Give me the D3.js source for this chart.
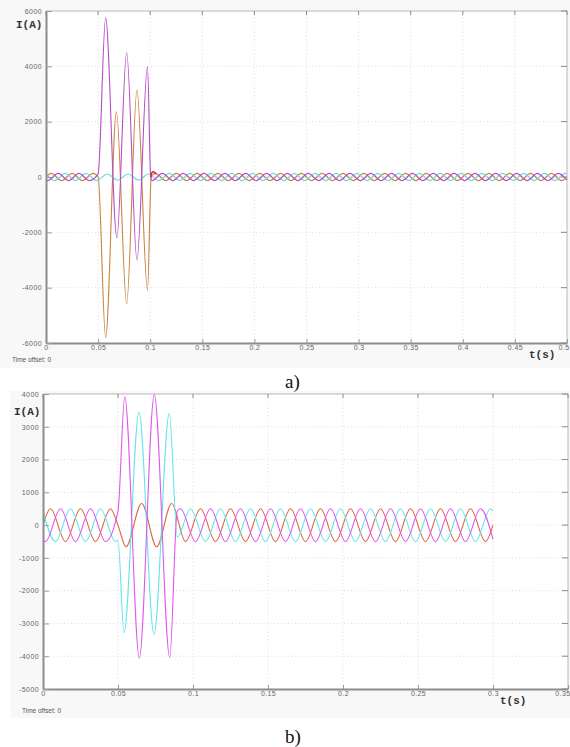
<!DOCTYPE html>
<html><head><meta charset="utf-8">
<script src="https://cdn.jsdelivr.net/npm/d3@7"></script>
<style>html,body{margin:0;padding:0;background:#fff;}svg{display:block;}</style>
</head><body>
<svg id="chart" width="570" height="747"></svg>
<script>
// ---------- DATA ----------
const halfPeriod = 0.01; // s between successive extrema in steady state (50 Hz)

// Chart a) — x ticks / y ticks
const aXTicks = [0,0.05,0.1,0.15,0.2,0.25,0.3,0.35,0.4,0.45,0.5];
const aYTicks = [-6000,-4000,-2000,0,2000,4000,6000];
// phase 1 (brown)
const aBrownPre   = [[0,0],[0.005,130],[0.015,-130],[0.025,130],[0.035,-130],[0.045,130],[0.05,0]];
const aBrownFault = [[0.0572,-5800],[0.0676,2360],[0.0774,-4590],[0.0873,3140],[0.0974,-4090],[0.101,0]];
const aBrownPostT0 = 0.105;
const aBrownPost  = [130,-130,130,-130,130,-130,130,-130,130,-130,130,-130,130,-130,130,-130,130,-130,130,-130,
                     130,-130,130,-130,130,-130,130,-130,130,-130,130,-130,130,-130,130,-130,130,-130,130,-130];
const aBrownEnd   = [[0.5,0]];
// phase 2 (purple)
const aPurplePre   = [[0,-113],[0.00167,-130],[0.01167,130],[0.02167,-130],[0.03167,130],[0.04167,-130],[0.05,113]];
const aPurpleFault = [[0.0572,5750],[0.068,-2200],[0.0774,4500],[0.0873,-3000],[0.0974,3990],[0.1005,0]];
const aPurplePostT0 = 0.10167;
const aPurplePost  = [-130,130,-130,130,-130,130,-130,130,-130,130,-130,130,-130,130,-130,130,-130,130,-130,130,
                      -130,130,-130,130,-130,130,-130,130,-130,130,-130,130,-130,130,-130,130,-130,130,-130,130];
const aPurpleEnd   = [[0.5,-113]];
// phase 3 (cyan)
const aCyanPre   = [[0,113],[0.00833,-130],[0.01833,130],[0.02833,-130],[0.03833,130],[0.04833,-130],[0.05,-113]];
const aCyanFault = [[0.0588,110],[0.0688,-110],[0.0788,110],[0.0888,-110],[0.0985,110]];
const aCyanPostT0 = 0.10833;
const aCyanPost  = [-130,130,-130,130,-130,130,-130,130,-130,130,-130,130,-130,130,-130,130,-130,130,-130,130,
                    -130,130,-130,130,-130,130,-130,130,-130,130,-130,130,-130,130,-130,130,-130,130,-130,130];
const aCyanEnd   = [[0.5,113]];
// short transient at fault clearing (red)
const aTransient = [[0.1005,0],[0.1015,150],[0.103,190],[0.1045,160],[0.106,100]];

// Chart b)
const bXTicks = [0,0.05,0.1,0.15,0.2,0.25,0.3,0.35];
const bYTicks = [-5000,-4000,-3000,-2000,-1000,0,1000,2000,3000,4000];
// phase 1 (red)
const bRedPre   = [[0,0],[0.005,500],[0.015,-500],[0.025,500],[0.035,-500],[0.045,500],[0.05,0]];
const bRedFault = [[0.0553,-660],[0.0658,660],[0.0758,-660],[0.0858,660]];
const bRedPostT0 = 0.095;
const bRedPost  = [-500,500,-500,500,-500,500,-500,500,-500,500,-500,500,-500,500,-500,500,-500,500,-500,500,-500];
const bRedEnd   = [[0.3,0]];
// phase 2 (magenta)
const bMagPre   = [[0,-433],[0.00167,-500],[0.01167,500],[0.02167,-500],[0.03167,500],[0.04167,-500],[0.05,433]];
const bMagFault = [[0.0545,3920],[0.0642,-4060],[0.0742,3980],[0.0845,-4040],[0.0895,430]];
const bMagPostT0 = 0.09167;
const bMagPost  = [500,-500,500,-500,500,-500,500,-500,500,-500,500,-500,500,-500,500,-500,500,-500,500,-500,500];
const bMagEnd   = [[0.3,-433]];
// phase 3 (cyan)
const bCyanPre   = [[0,433],[0.00833,-500],[0.01833,500],[0.02833,-500],[0.03833,500],[0.04833,-500],[0.05,-460]];
const bCyanFault = [[0.054,-3280],[0.064,3440],[0.074,-3330],[0.0842,3410],[0.0895,-370]];
const bCyanPostT0 = 0.09833;
const bCyanPost  = [500,-500,500,-500,500,-500,500,-500,500,-500,500,-500,500,-500,500,-500,500,-500,500,-500,500];
const bCyanEnd   = [[0.3,433]];

// ---------- helpers ----------
function series(pre, fault, t0, post, end){
  const steady = post.map((v,i)=>[t0 + i*halfPeriod, v]);
  return pre.concat(fault, steady, end);
}

const svg = d3.select("#chart");
const bgLayer = svg.append("g");
const fgLayer = svg.append("g");

function drawPanel(cfg){
  bgLayer.append("rect").attr("x",cfg.panel[0]).attr("y",cfg.panel[1])
    .attr("width",cfg.panel[2]).attr("height",cfg.panel[3]).attr("fill","#f8f8f8");
  const g = fgLayer.append("g");
  const x = d3.scaleLinear().domain(cfg.xDomain).range([cfg.left, cfg.right]);
  const y = d3.scaleLinear().domain(cfg.yDomain).range([cfg.bottom, cfg.top]);
  g.append("rect").attr("x",cfg.left).attr("y",cfg.top)
    .attr("width",cfg.right-cfg.left).attr("height",cfg.bottom-cfg.top).attr("fill","#ffffff");

  // grid
  const grid = g.append("g").attr("stroke","#d4d4d4").attr("stroke-width",0.8).attr("stroke-dasharray","1,2.5");
  cfg.xTicks.slice(1,-1).forEach(t=>{
    grid.append("line").attr("x1",x(t)).attr("x2",x(t)).attr("y1",cfg.top).attr("y2",cfg.bottom);
  });
  cfg.yTicks.slice(1,-1).forEach(t=>{
    grid.append("line").attr("x1",cfg.left).attr("x2",cfg.right).attr("y1",y(t)).attr("y2",y(t));
  });

  // frame top/right
  g.append("line").attr("x1",cfg.left).attr("x2",cfg.right).attr("y1",cfg.top).attr("y2",cfg.top)
    .attr("stroke","#b8b8b8").attr("stroke-width",1);
  g.append("line").attr("x1",cfg.right).attr("x2",cfg.right).attr("y1",cfg.top).attr("y2",cfg.bottom)
    .attr("stroke","#b8b8b8").attr("stroke-width",1);
  const tk = g.append("g").attr("stroke","#8a8a8a").attr("stroke-width",1);
  cfg.xTicks.forEach(t=>{
    tk.append("line").attr("x1",x(t)).attr("x2",x(t)).attr("y1",cfg.top).attr("y2",cfg.top+4);
  });
  cfg.yTicks.forEach(t=>{
    tk.append("line").attr("x1",cfg.right).attr("x2",cfg.right-6).attr("y1",y(t)).attr("y2",y(t));
  });

  // lines
  const clipId = "clip"+cfg.id;
  g.append("clipPath").attr("id",clipId).append("rect")
    .attr("x",cfg.left).attr("y",cfg.top-1).attr("width",cfg.right-cfg.left).attr("height",cfg.bottom-cfg.top+2);
  const line = d3.line().x(d=>x(d[0])).y(d=>y(d[1])).curve(d3.curveMonotoneX);
  const lg = g.append("g").attr("clip-path","url(#"+clipId+")");
  cfg.series.forEach(s=>{
    lg.append("path").datum(s.data).attr("d",line).attr("fill","none")
      .attr("stroke",s.color).attr("stroke-width",s.w||1.1).attr("stroke-linejoin","round");
  });

  // axes (left and bottom)
  const xAxis = d3.axisBottom(x).tickValues(cfg.xTicks).tickSizeInner(-4).tickSizeOuter(0).tickPadding(2)
    .tickFormat(d=>d3.format("~g")(d));
  const yAxis = d3.axisLeft(y).tickValues(cfg.yTicks).tickSizeInner(-6).tickSizeOuter(0).tickPadding(4)
    .tickFormat(d=>String(d));
  const xa = g.append("g").attr("transform",`translate(0,${cfg.bottom})`).call(xAxis);
  const ya = g.append("g").attr("transform",`translate(${cfg.left},0)`).call(yAxis);
  [xa,ya].forEach(a=>{
    a.select(".domain").attr("stroke","#8c8c8c").attr("stroke-width",2);
    a.selectAll(".tick line").attr("stroke","#9a9a9a");
    a.selectAll(".tick text").attr("font-family","Liberation Sans, Arial, sans-serif")
      .attr("font-size",7).attr("fill","#666").attr("letter-spacing","0.4px");
  });
  // keep the right-most x label inside the page
  xa.selectAll(".tick").filter((d,i,n)=>i===n.length-1).select("text")
    .attr("text-anchor","end").attr("dx","2px");

  // labels
  g.append("text").attr("x",cfg.ylab[0]).attr("y",cfg.ylab[1]).text("I(A)")
    .attr("font-family","Liberation Mono, monospace").attr("font-weight","bold").attr("font-size",11).attr("fill","#333");
  g.append("text").attr("x",cfg.xlab[0]).attr("y",cfg.xlab[1]).text("t(s)")
    .attr("font-family","Liberation Mono, monospace").attr("font-weight","bold").attr("font-size",11).attr("fill","#333");
  g.append("text").attr("x",cfg.offs[0]).attr("y",cfg.offs[1]).text("Time offset: 0")
    .attr("font-family","Liberation Sans, Arial, sans-serif").attr("font-size",6.5).attr("fill","#555");
  fgLayer.append("text").attr("x",cfg.cap[0]).attr("y",cfg.cap[1]).text(cfg.caption)
    .attr("font-family","Liberation Serif, Times New Roman, serif").attr("font-size",19).attr("fill","#111");
}

drawPanel({
  id:"a", panel:[0,0,570,368], left:46, right:567, top:11, bottom:343,
  xDomain:[0,0.5], yDomain:[-6000,6000], xTicks:aXTicks, yTicks:aYTicks,
  ylab:[16,28], xlab:[529,358], offs:[12,362], cap:[285,388], caption:"a)",
  series:[
    {color:"#c8843e", data:series(aBrownPre,aBrownFault,aBrownPostT0,aBrownPost,aBrownEnd)},
    {color:"#6fd8dc", data:series(aCyanPre,aCyanFault,aCyanPostT0,aCyanPost,aCyanEnd)},
    {color:"#b84cc8", data:series(aPurplePre,aPurpleFault,aPurplePostT0,aPurplePost,aPurpleEnd)},
    {color:"#d0302a", data:aTransient, w:1.6}
  ]
});

drawPanel({
  id:"b", panel:[10,391,560,327], left:43, right:568, top:394, bottom:689,
  xDomain:[0,0.35], yDomain:[-5000,4000], xTicks:bXTicks, yTicks:bYTicks,
  ylab:[14,415], xlab:[500,704], offs:[22,713], cap:[285,743], caption:"b)",
  series:[
    {color:"#e0643e", data:series(bRedPre,bRedFault,bRedPostT0,bRedPost,bRedEnd)},
    {color:"#62e6e8", data:series(bCyanPre,bCyanFault,bCyanPostT0,bCyanPost,bCyanEnd)},
    {color:"#e056ee", data:series(bMagPre,bMagFault,bMagPostT0,bMagPost,bMagEnd)}
  ]
});
</script>
</body></html>
